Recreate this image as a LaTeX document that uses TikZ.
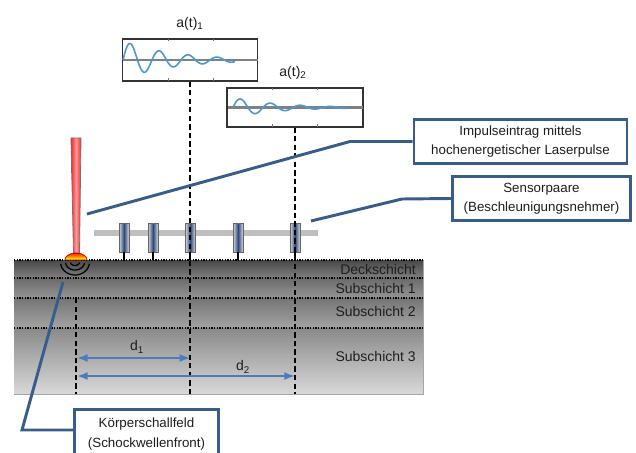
\documentclass[tikz,border=0pt]{standalone}
\usepackage{fontspec}
\setmainfont{Liberation Sans}
\usetikzlibrary{arrows.meta}
\definecolor{callout}{RGB}{56,93,138}
\definecolor{dimblue}{RGB}{74,126,187}
\definecolor{wave}{RGB}{76,152,212}
\definecolor{sensorblue}{RGB}{45,75,125}
\definecolor{txt}{RGB}{30,30,30}
\pgfdeclareverticalshading{hotspot}{100bp}{
  color(0bp)=(red); color(25bp)=(red); color(32bp)=(yellow);
  color(52bp)=(orange); color(68bp)=(orange!50!red); color(75bp)=(red!80!black);
  color(100bp)=(red!80!black)}
\begin{document}
\begin{tikzpicture}[x=0.75pt,y=-0.75pt,
  every node/.style={text=txt},
  callbox/.style={draw=callout, line width=2.2pt, fill=white, align=center,
    inner sep=0pt, font=\fontsize{10}{14}\selectfont},
  calloutline/.style={draw=callout, line width=2.2pt},
  plotbox/.style={draw=black!80, line width=0.8pt, fill=white, inner sep=0pt},
  axisline/.style={black!50, line width=2pt},
  waveline/.style={wave, line width=1.2pt},
  tick/.style={black!55, line width=0.5pt},
  sensor/.style={draw=black!60, line width=0.6pt, inner sep=0pt,
    minimum width=7.5pt, minimum height=21.75pt,
    left color=black!15, right color=black!15, middle color=sensorblue},
  stem/.style={black, line width=1.5pt},
  dashline/.style={black, line width=1.3pt, dash pattern=on 4pt off 2.4pt},
  layerline/.style={black, line width=1.1pt, dash pattern=on 0.9pt off 1.1pt},
  layerlabel/.style={anchor=east, inner sep=0pt, font=\fontsize{10.5}{12}\selectfont},
  dimarrow/.style={dimblue, line width=1.5pt, {Latex[length=8pt,width=6pt]}-{Latex[length=8pt,width=6pt]}},
  title/.style={font=\fontsize{10.5}{12}\selectfont, inner sep=0pt}
]
\useasboundingbox (0,0) rectangle (636,453);
\begin{scope}
\clip (0,0) rectangle (636,453);

% ---- layered body ----
\shade[top color=black!72, bottom color=black!50] (14,260) rectangle (423,278);
\shade[top color=black!58, bottom color=black!42] (14,278) rectangle (423,298);
\shade[top color=black!54, bottom color=black!36] (14,298) rectangle (423,328);
\shade[top color=black!46, bottom color=black!15] (14,328) rectangle (423,394);
\draw[black!35, line width=0.6pt] (423,260) -- (423,394) -- (14,394);
\foreach \yy in {260,278,298,328}
  \draw[layerline] (14,\yy) -- (423,\yy);

\node[layerlabel] (deck) at (416,269) {Deckschicht};
\node[layerlabel] (sub1) at (416,288) {Subschicht 1};
\node[layerlabel] (sub2) at (416,311) {Subschicht 2};
\node[layerlabel] (sub3) at (416,356) {Subschicht 3};

% ---- sensor rail with sensors ----
\fill[black!25] (94,230) rectangle (318,236);
\foreach \n/\xx in {1/124,2/153,3/190.35,4/238,5/295}{
  \node[sensor] (s\n) at (\xx,237.5) {};
  \draw[stem] (s\n.south) -- ++(0,8);
}

% ---- laser beam and impact spot ----
\shadedraw[draw=black!55, line width=0.6pt, left color=red!85, right color=red!85,
  middle color=red!40] (71,138) -- (81,138) -- (79.5,254) -- (73.5,254) -- cycle;
\shadedraw[draw=red!70!black, line width=0.5pt, shading=hotspot]
  plot[domain=180:360, samples=40] ({76+11*cos(\x)},{260+7*sin(\x)}) -- cycle;

% ---- shock wave arcs ----
\foreach \rx/\ry in {4.5/3.5,9.5/8,14.5/13}
  \draw[black, line width=0.9pt]
    plot[domain=8:172, samples=40] ({75+\rx*cos(\x)},{262+\ry*sin(\x)});

% ---- signal plots ----
\node[plotbox, minimum width=101.25pt, minimum height=31.5pt] (pa) at (190.35,60) {};
\draw[axisline] (123,60) -- (258,60);
\foreach \xx in {168,213}{
  \draw[tick] (\xx,39) -- ++(0,2.5);
  \draw[tick] (\xx,81) -- ++(0,-2.5);
}
\draw[waveline] plot[domain=0:112, samples=200, smooth]
  ({123+\x},{60-19*exp(-\x/50)*sin(12.4138*\x)});
\node[title] (ta) at (190,24) {a(t)\textsubscript{1}};

\node[plotbox, minimum width=102pt, minimum height=29.25pt] (pb) at (295,107.5) {};
\draw[axisline] (228,107.5) -- (363,107.5);
\foreach \xx in {272,317}{
  \draw[tick] (\xx,88) -- ++(0,2.5);
  \draw[tick] (\xx,127) -- ++(0,-2.5);
}
\draw[waveline] plot[domain=0:114, samples=200, smooth]
  ({233+\x},{107.5-10*exp(-\x/45)*sin(12*\x)});
\node[title] (tb) at (293,73) {a(t)\textsubscript{2}};

% ---- vertical reference lines ----
\coordinate (bot) at (0,394);
\coordinate (src) at (76,298);
\draw[dashline] (pa.south) -- (pa.south |- bot);
\draw[dashline] (pb.south) -- (pb.south |- bot);
\draw[dashline] (src) -- (src |- bot);

% ---- distances ----
\coordinate (d1l) at (77,358);
\coordinate (d2l) at (77,376);
\draw[dimarrow] (d1l) -- (d1l -| pa.south);
\draw[dimarrow] (d2l) -- (d2l -| pb.south);
\node[title] (d1) at (137,347) {d\textsubscript{1}};
\node[title] (d2) at (243,367) {d\textsubscript{2}};

% ---- callouts ----
\node[callbox, minimum width=159.75pt, minimum height=33pt] (boxA) at (520.5,141.5)
  {Impulseintrag mittels\\hochenergetischer Laserpulse};
\node[callbox, minimum width=133.5pt, minimum height=33pt] (boxB) at (541.5,198.5)
  {Sensorpaare\\(Beschleunigungsnehmer)};
\node[callbox, minimum width=108pt, minimum height=37pt, font=\fontsize{10}{15}\selectfont]
  (boxC) at (146.5,434) {Körperschallfeld\\(Schockwellenfront)};

\coordinate (tipA) at (87,214);
\coordinate (bendA) at (350,141.5);
\coordinate (tipB) at (311,221);
\coordinate (bendB) at (402,199);
\coordinate (tipC) at (63,282);
\coordinate (bendC) at (22,430);
\draw[calloutline] (tipA) -- (bendA) -- (boxA.west);
\draw[calloutline] (tipB) -- (bendB) -- (boxB.west);
\draw[calloutline] (tipC) -- (bendC) -- (bendC -| boxC.west);
\end{scope}
\end{tikzpicture}
\end{document}
